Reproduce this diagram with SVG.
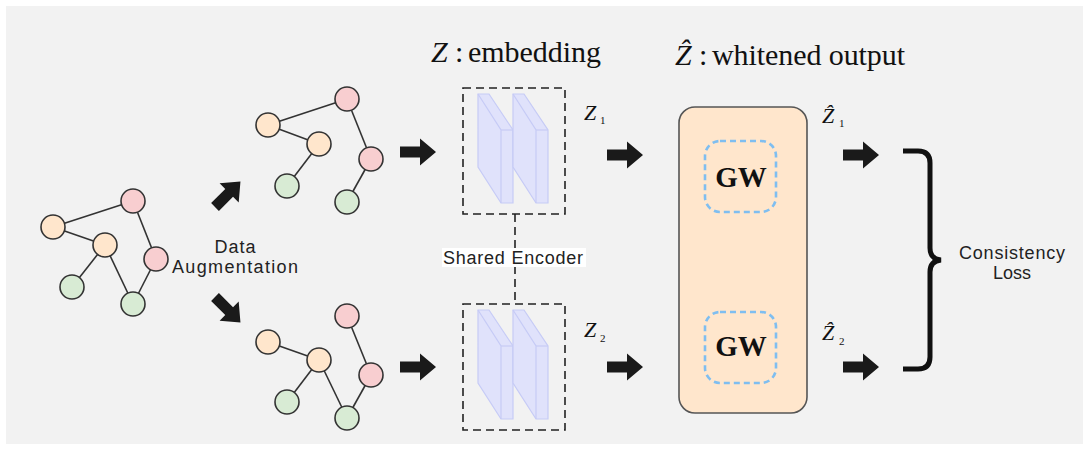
<svg xmlns="http://www.w3.org/2000/svg" width="1089" height="450" viewBox="0 0 1089 450">
<style>
.edge{stroke:#333;stroke-width:1.6;fill:none}
.nd{stroke:#333;stroke-width:1.6}
.or{fill:#ffe6cc}
.pk{fill:#f8ced0}
.gr{fill:#d8ebd4}
.blk{fill:#1a1a1a}
.dash{fill:none;stroke:#222;stroke-width:1.6;stroke-dasharray:8 5}
.slab{fill:#e0e2fb;stroke:#c6cbf6;stroke-width:1.2}
.slabl{fill:none;stroke:#c6cbf6;stroke-width:1.2}
.gw{fill:none;stroke:#7fbef0;stroke-width:2.6;stroke-dasharray:6 4}
.sans{font-family:"Liberation Sans",Arial,sans-serif;font-size:18px;fill:#222}
.serif{font-family:"Liberation Serif","DejaVu Serif","Times New Roman",serif;fill:#111}
</style>
<defs>
<path id="arr" d="M0,-5.5 H20 V-13.5 L36,0 L20,13.5 V5.5 H0 Z"/>
</defs>
<rect x="0" y="0" width="1089" height="450" fill="#ffffff"/>
<rect x="6" y="6" width="1077" height="438" fill="#f2f2f2"/>

<g id="connectors">
  <line class="edge" x1="53" y1="227" x2="133" y2="201"/>
  <line class="edge" x1="53" y1="227" x2="105" y2="245"/>
  <line class="edge" x1="105" y1="245" x2="72" y2="287"/>
  <line class="edge" x1="105" y1="245" x2="133" y2="304"/>
  <line class="edge" x1="133" y1="201" x2="156" y2="259"/>
  <line class="edge" x1="156" y1="259" x2="133" y2="304"/>
  <line class="edge" x1="268" y1="125" x2="347" y2="99"/>
  <line class="edge" x1="268" y1="125" x2="319" y2="144"/>
  <line class="edge" x1="319" y1="144" x2="287" y2="186"/>
  <line class="edge" x1="347" y1="99" x2="371" y2="159"/>
  <line class="edge" x1="371" y1="159" x2="347" y2="202"/>
  <line class="edge" x1="268" y1="342" x2="319" y2="360"/>
  <line class="edge" x1="319" y1="360" x2="287" y2="402"/>
  <line class="edge" x1="319" y1="360" x2="347" y2="418"/>
  <line class="edge" x1="347" y1="316" x2="371" y2="375"/>
  <line class="edge" x1="371" y1="375" x2="347" y2="418"/>
  <use href="#arr" class="blk" transform="translate(215,207) rotate(-45)"/>
  <use href="#arr" class="blk" transform="translate(215,297) rotate(45)"/>
  <use href="#arr" class="blk" transform="translate(400,152)"/>
  <use href="#arr" class="blk" transform="translate(400,367)"/>
  <use href="#arr" class="blk" transform="translate(607,155)"/>
  <use href="#arr" class="blk" transform="translate(607,367)"/>
  <use href="#arr" class="blk" transform="translate(843,155)"/>
  <use href="#arr" class="blk" transform="translate(843,367)"/>
  <line class="dash" x1="515" y1="214" x2="515" y2="304"/>
  <path d="M903,151 H918 Q930,151 930,163 V248 Q930,259 941,260 Q930,261 930,272 V357 Q930,369 918,369 H903" fill="none" stroke="#111" stroke-width="5"/>
</g>

<g id="graph-original">
  <circle class="nd pk" cx="133" cy="201" r="12"/>
  <circle class="nd or" cx="53" cy="227" r="12"/>
  <circle class="nd or" cx="105" cy="245" r="12"/>
  <circle class="nd pk" cx="156" cy="259" r="12"/>
  <circle class="nd gr" cx="72" cy="287" r="12"/>
  <circle class="nd gr" cx="133" cy="304" r="12"/>
</g>
<g id="graph-view1">
  <circle class="nd pk" cx="347" cy="99" r="12"/>
  <circle class="nd or" cx="268" cy="125" r="12"/>
  <circle class="nd or" cx="319" cy="144" r="12"/>
  <circle class="nd pk" cx="371" cy="159" r="12"/>
  <circle class="nd gr" cx="287" cy="186" r="12"/>
  <circle class="nd gr" cx="347" cy="202" r="12"/>
</g>
<g id="graph-view2">
  <circle class="nd pk" cx="347" cy="316" r="12"/>
  <circle class="nd or" cx="268" cy="342" r="12"/>
  <circle class="nd or" cx="319" cy="360" r="12"/>
  <circle class="nd pk" cx="371" cy="375" r="12"/>
  <circle class="nd gr" cx="287" cy="402" r="12"/>
  <circle class="nd gr" cx="347" cy="418" r="12"/>
</g>

<g id="label-augmentation">
  <text class="sans" x="235" y="253" text-anchor="middle" textLength="41" lengthAdjust="spacing">Data</text>
  <text class="sans" x="235" y="273" text-anchor="middle" textLength="126" lengthAdjust="spacing">Augmentation</text>
</g>

<g id="encoder1">
  <rect class="dash" x="463" y="88" width="102" height="126"/>
  <polygon class="slab" points="478,94 489,94 513,130 513,203 501,203 478,167"/>
  <polyline class="slabl" points="478,94 501,130 501,203"/>
  <line class="slabl" x1="501" y1="130" x2="513" y2="130"/>
  <polygon class="slab" points="513,94 524,94 548,130 548,203 536,203 513,167"/>
  <polyline class="slabl" points="513,94 536,130 536,203"/>
  <line class="slabl" x1="536" y1="130" x2="548" y2="130"/>
</g>
<g id="encoder2">
  <rect class="dash" x="463" y="304" width="102" height="126"/>
  <polygon class="slab" points="478,310 489,310 513,346 513,419 501,419 478,383"/>
  <polyline class="slabl" points="478,310 501,346 501,419"/>
  <line class="slabl" x1="501" y1="346" x2="513" y2="346"/>
  <polygon class="slab" points="513,310 524,310 548,346 548,419 536,419 513,383"/>
  <polyline class="slabl" points="513,310 536,346 536,419"/>
  <line class="slabl" x1="536" y1="346" x2="548" y2="346"/>
</g>

<g id="shared-encoder-label">
  <rect x="442" y="248" width="144" height="19" fill="#ffffff"/>
  <text class="sans" x="513" y="264" text-anchor="middle" textLength="140" lengthAdjust="spacing">Shared Encoder</text>
</g>

<g id="title-embedding">
  <text class="serif" x="431" y="62" font-size="30"><tspan font-style="italic">Z</tspan><tspan x="455">:</tspan><tspan x="468" textLength="133" lengthAdjust="spacing">embedding</tspan></text>
</g>
<g id="title-whitened">
  <text class="serif" x="675" y="65" font-size="30"><tspan font-style="italic">Ẑ</tspan><tspan x="699">:</tspan><tspan x="712" textLength="193" lengthAdjust="spacing">whitened output</tspan></text>
</g>

<g id="label-z1">
  <text class="serif" x="584" y="120" font-size="22"><tspan font-style="italic">Z</tspan><tspan x="600" dy="4" font-size="11">1</tspan></text>
</g>
<g id="label-z2">
  <text class="serif" x="584" y="337" font-size="22"><tspan font-style="italic">Z</tspan><tspan x="600" dy="5" font-size="11">2</tspan></text>
</g>

<g id="whitening">
  <rect x="679" y="107" width="128" height="306" rx="16" fill="#ffe6cc" stroke="#555" stroke-width="1.6"/>
</g>
<g id="gw1">
  <rect class="gw" x="705" y="141" width="71" height="71" rx="15"/>
  <text class="serif" x="741" y="187" font-size="29" font-weight="bold" text-anchor="middle" fill="#1a1a1a">GW</text>
</g>
<g id="gw2">
  <rect class="gw" x="705" y="312" width="71" height="71" rx="15"/>
  <text class="serif" x="741" y="356" font-size="29" font-weight="bold" text-anchor="middle" fill="#1a1a1a">GW</text>
</g>

<g id="label-zhat1">
  <text class="serif" x="822" y="123" font-size="22"><tspan font-style="italic">Ẑ</tspan><tspan x="839" dy="4" font-size="11">1</tspan></text>
</g>
<g id="label-zhat2">
  <text class="serif" x="822" y="340" font-size="22"><tspan font-style="italic">Ẑ</tspan><tspan x="839" dy="5" font-size="11">2</tspan></text>
</g>

<g id="consistency-loss">
  <text class="sans" x="1012" y="259" text-anchor="middle" textLength="106" lengthAdjust="spacing">Consistency</text>
  <text class="sans" x="1012" y="279" text-anchor="middle" textLength="38" lengthAdjust="spacing">Loss</text>
</g>
</svg>
